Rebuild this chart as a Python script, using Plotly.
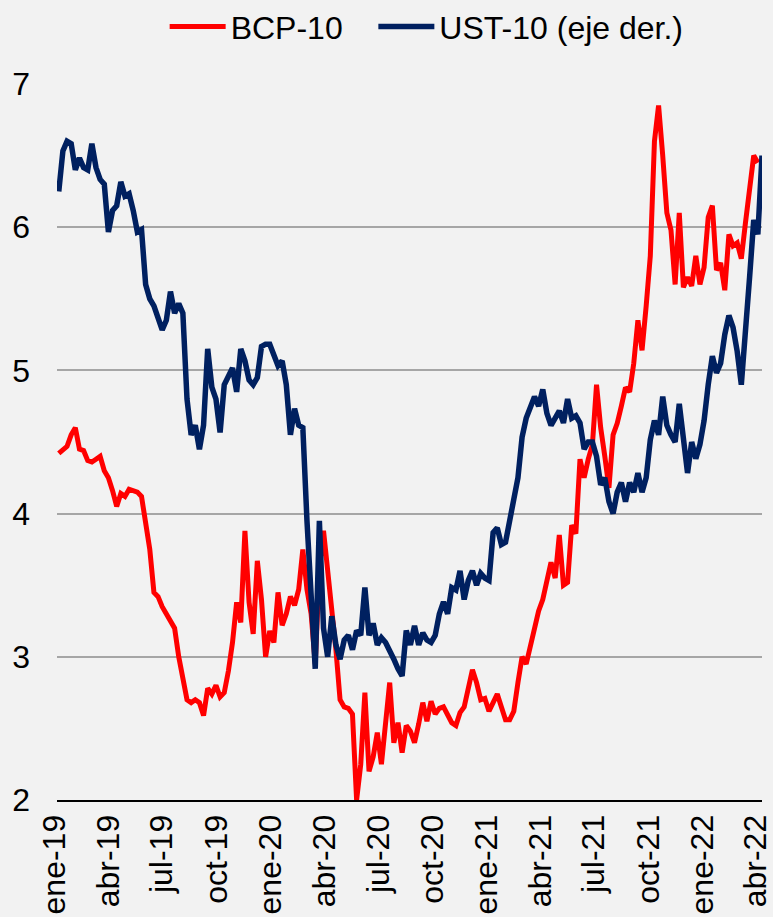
import pandas as pd
import plotly.graph_objects as go

# Weekly observations (Fridays) from Jan-2019 to Apr-2022
dates = pd.date_range("2019-01-04", periods=171, freq="7D")

# BCP-10 yield (%) - left axis
bcp10 = [4.42, 4.45, 4.47, 4.55, 4.60, 4.45, 4.44, 4.37, 4.36, 4.38,
         4.40, 4.30, 4.25, 4.16, 4.05, 4.14, 4.12, 4.17, 4.16, 4.15,
         4.12, 3.95, 3.75, 3.45, 3.42, 3.35, 3.30, 3.26, 3.20, 3.00,
         2.85, 2.70, 2.68, 2.70, 2.68, 2.59, 2.78, 2.74, 2.80, 2.72,
         2.75, 2.90, 3.10, 3.38, 3.24, 3.88, 3.38, 3.16, 3.67, 3.40,
         3.00, 3.18, 3.10, 3.45, 3.22, 3.30, 3.42, 3.36, 3.47, 3.75,
         3.47, 3.30, 2.95, 3.60, 3.88, 3.60, 3.35, 3.05, 2.70, 2.65,
         2.64, 2.60, 2.00, 2.25, 2.75, 2.20, 2.30, 2.47, 2.25, 2.55,
         2.82, 2.40, 2.54, 2.33, 2.52, 2.48, 2.40, 2.53, 2.68, 2.55,
         2.69, 2.60, 2.64, 2.65, 2.60, 2.54, 2.52, 2.61, 2.65, 2.80,
         2.91, 2.82, 2.70, 2.71, 2.62, 2.68, 2.74, 2.65, 2.56, 2.56,
         2.62, 2.82, 3.00, 2.95, 3.07, 3.22, 3.32, 3.40, 3.52, 3.66,
         3.55, 3.85, 3.50, 3.52, 3.92, 3.86, 4.38, 4.25, 4.38, 4.48,
         4.90, 4.60, 4.40, 4.18, 4.55, 4.63, 4.75, 4.88, 4.85, 5.05,
         5.35, 5.14, 5.45, 5.80, 6.60, 6.85, 6.50, 6.10, 5.98, 5.60,
         6.10, 5.58, 5.65, 5.59, 5.80, 5.60, 5.72, 6.07, 6.15, 5.70,
         5.75, 5.56, 5.95, 5.87, 5.89, 5.78, 6.03, 6.28, 6.50, 6.45, None]

# UST-10 yield (%) - right axis
ust10 = [2.55, 2.72, 2.76, 2.75, 2.64, 2.69, 2.65, 2.64, 2.75, 2.65,
         2.60, 2.58, 2.38, 2.47, 2.49, 2.59, 2.53, 2.54, 2.47, 2.38,
         2.39, 2.16, 2.10, 2.07, 2.02, 1.97, 2.01, 2.13, 2.04, 2.08,
         2.04, 1.68, 1.53, 1.57, 1.47, 1.57, 1.89, 1.73, 1.68, 1.54,
         1.74, 1.78, 1.81, 1.71, 1.89, 1.84, 1.76, 1.74, 1.77, 1.90,
         1.91, 1.91, 1.86, 1.82, 1.84, 1.74, 1.53, 1.64, 1.57, 1.56,
         1.17, 0.84, 0.55, 1.17, 0.72, 0.60, 0.77, 0.65, 0.59, 0.67,
         0.69, 0.63, 0.71, 0.69, 0.89, 0.69, 0.74, 0.65, 0.68, 0.66,
         0.63, 0.59, 0.55, 0.52, 0.71, 0.65, 0.73, 0.65, 0.70, 0.67,
         0.66, 0.69, 0.78, 0.83, 0.78, 0.89, 0.88, 0.96, 0.84, 0.92,
         0.96, 0.90, 0.95, 0.93, 0.92, 1.12, 1.14, 1.07, 1.08, 1.16,
         1.26, 1.35, 1.52, 1.60, 1.64, 1.69, 1.65, 1.72, 1.62, 1.57,
         1.60, 1.63, 1.58, 1.68, 1.60, 1.61, 1.58, 1.47, 1.50, 1.50,
         1.44, 1.32, 1.35, 1.25, 1.20, 1.29, 1.33, 1.25, 1.33, 1.29,
         1.37, 1.29, 1.35, 1.51, 1.59, 1.53, 1.69, 1.57, 1.53, 1.50,
         1.66, 1.49, 1.37, 1.50, 1.43, 1.49, 1.59, 1.74, 1.86, 1.79,
         1.83, 1.95, 2.03, 1.98, 1.88, 1.74, 2.00, 2.19, 2.43, 2.37,
         2.70]

tick_dates = ["2019-01-01", "2019-04-01", "2019-07-01", "2019-10-01",
              "2020-01-01", "2020-04-01", "2020-07-01", "2020-10-01",
              "2021-01-01", "2021-04-01", "2021-07-01", "2021-10-01",
              "2022-01-01", "2022-04-01"]
tick_labels = ["ene-19", "abr-19", "jul-19", "oct-19", "ene-20", "abr-20",
               "jul-20", "oct-20", "ene-21", "abr-21", "jul-21", "oct-21",
               "ene-22", "abr-22"]

FONT = "Liberation Sans, Arial, sans-serif"

fig = go.Figure()
fig.add_trace(go.Scatter(x=dates, y=bcp10, name="BCP-10", mode="lines",
                         line=dict(color="#FF0000", width=5), yaxis="y",
                         legend="legend"))
fig.add_trace(go.Scatter(x=dates, y=ust10, name="UST-10 (eje der.)", mode="lines",
                         line=dict(color="#002060", width=5.5), yaxis="y2",
                         legend="legend2"))

leg_common = dict(orientation="h", xref="container", yref="container",
                  xanchor="left", y=0.971, yanchor="middle",
                  font=dict(size=32, family=FONT), bgcolor="rgba(0,0,0,0)",
                  itemwidth=56)

fig.update_layout(
    width=773, height=917,
    margin=dict(l=57, r=11, t=84, b=117, autoexpand=False),
    paper_bgcolor="#F2F2F2", plot_bgcolor="rgba(0,0,0,0)",
    font=dict(family=FONT, size=32, color="#000000"),
    showlegend=True,
    legend=dict(x=0.213, **leg_common),
    legend2=dict(x=0.483, **leg_common),
    xaxis=dict(type="date", range=["2019-01-01", "2022-04-08"],
               tickmode="array", tickvals=tick_dates, ticktext=tick_labels,
               tickangle=-90, showgrid=False, zeroline=False, automargin=False,
               showline=True, linecolor="#000000", linewidth=2,
               ticks="", tickfont=dict(size=32), ticklabelstandoff=0,
               ticklabelshift=-2, ticklabeloverflow="allow"),
    yaxis=dict(range=[2, 7], tickvals=[2, 3, 4, 5, 6, 7], showgrid=True,
               gridcolor="#A6A6A6", gridwidth=2, zeroline=False, ticks="",
               automargin=False, tickfont=dict(size=32), ticklabelstandoff=26,
               showline=False),
    yaxis2=dict(range=[0, 3], overlaying="y", side="right", visible=False,
                showgrid=False),
)

fig.write_html("out.html", config={"displayModeBar": False},
               post_script="document.body.style.margin='0';document.body.style.background='#F2F2F2';")
